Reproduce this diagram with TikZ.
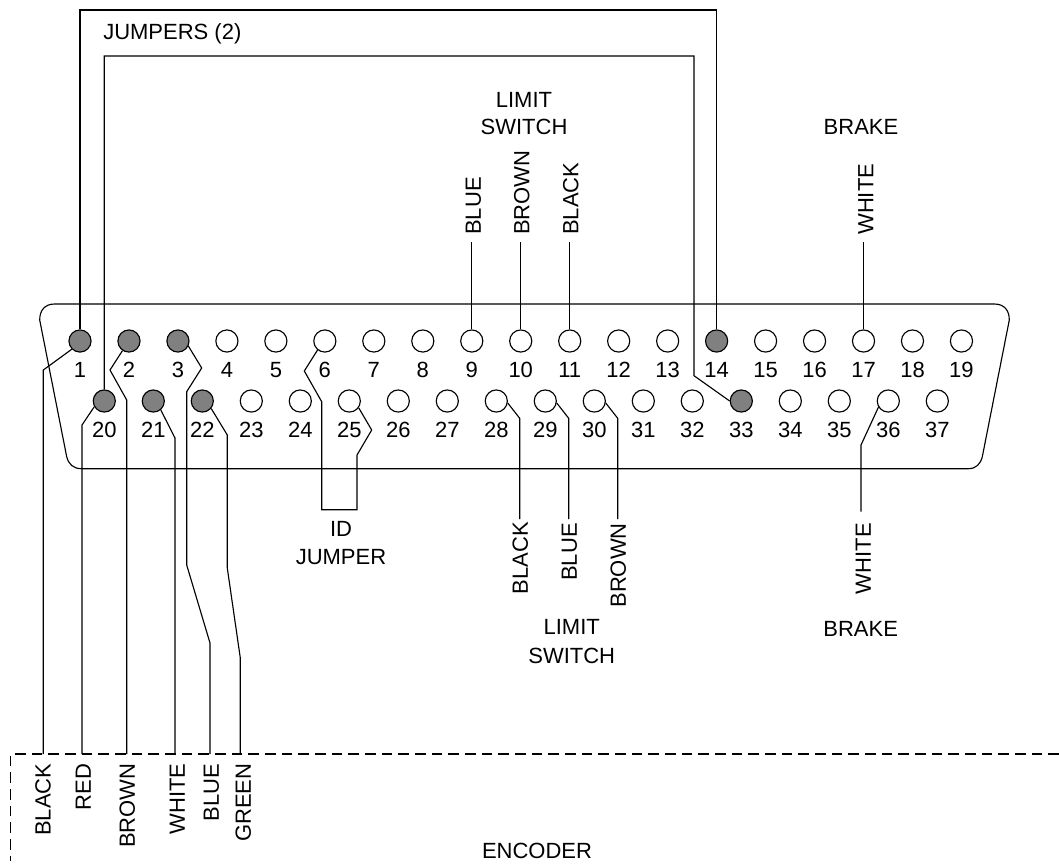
\documentclass[tikz,border=0pt]{standalone}
\usepackage{fontspec}
\setmainfont{Liberation Sans}
\definecolor{pingray}{HTML}{808080}
\tikzset{
	wire/.style={line width=0.85pt, line join=miter},
	pin/.style={circle, draw, line width=0.85pt, minimum size=16.6pt, inner sep=0pt},
	pinon/.style={pin, fill=pingray},
	txt/.style={font=\fontsize{16.5}{18}\selectfont, inner sep=0pt, text height=11.8pt, text depth=0pt},
	upbottom/.style={txt, rotate=90, anchor=west},
	uptop/.style={txt, rotate=90, anchor=east},
}
\begin{document}
\begin{tikzpicture}[x=0.75pt,y=-0.75pt]
	\useasboundingbox (0,0) rectangle (1059,865);
	% Connector shell
	\draw[wire] (54.7,304) -- (994.3,304) .. controls (1004,304) and (1009.3,310) .. (1009.3,320)
		-- (982.3,456.7) .. controls (980.5,464) and (976,468.7) .. (968.3,468.7)
		-- (81.7,468.7) .. controls (73,468.7) and (68.5,464) .. (66.7,456.7)
		-- (39.7,320) .. controls (39.7,310) and (45,304) .. (54.7,304) -- cycle;
	% Top row
	\foreach \n in {1,2,3,14}
		\node[pinon] (p\n) at ({80+48.97*(\n-1)},341) {};
	\foreach \n in {4,5,6,7,8,9,10,11,12,13,15,16,17,18,19}
		\node[pin] (p\n) at ({80+48.97*(\n-1)},341) {};
	\foreach \n in {1,...,19}
		\node[txt] (n\n) at ({80+48.97*(\n-1)},370) {\n};
	% Bottom row
	\foreach \n in {20,21,22,33}
		\node[pinon] (p\n) at ({104.3+49*(\n-20)},401) {};
	\foreach \n in {23,24,25,26,27,28,29,30,31,32,34,35,36,37}
		\node[pin] (p\n) at ({104.3+49*(\n-20)},401) {};
	\foreach \n in {20,...,37}
		\node[txt] (n\n) at ({104.3+49*(\n-20)},430) {\n};
	% Jumpers
	\node[txt, anchor=west] (jumpers) at (103,32) {JUMPERS (2)};
	\draw[wire] (p1.north) -- (p1.north |- 0,10) -| (p14.north);
	\draw[wire] (p20.north) -- (p20.north |- 0,56) -- (694,56) -- (694,375.7) -- (p33.west);
	% Limit switch and brake, top
	\node[txt] (limit1) at (524,100) {LIMIT};
	\node[txt] (switch1) at (524,127) {SWITCH};
	\node[txt] (brake1) at (861,127) {BRAKE};
	\node[upbottom] (blue9) at (473,235) {BLUE};
	\node[upbottom] (brown10) at (521.5,235) {BROWN};
	\node[upbottom] (black11) at (570.5,235) {BLACK};
	\node[upbottom] (white17) at (865.5,235) {WHITE};
	\coordinate (e9) at (p9.north |- 0,242);
	\coordinate (e10) at (p10.north |- 0,242);
	\coordinate (e11) at (p11.north |- 0,242);
	\coordinate (e17) at (p17.north |- 0,242);
	\draw[wire] (p9.north) -- (e9);
	\draw[wire] (p10.north) -- (e10);
	\draw[wire] (p11.north) -- (e11);
	\draw[wire] (p17.north) -- (e17);
	% ID jumper
	\node[txt] (id) at (341,529) {ID};
	\node[txt] (jumper) at (341,557) {JUMPER};
	\draw[wire] (p6.231) -- (304.3,371) -- (321.7,401.7) -- (321.7,509.7) -- (357,509.7)
		-- (357,455) -- (371.7,430) -- (p25.324);
	% Limit switch and brake, bottom
	\node[uptop] (black28) at (520,521.7) {BLACK};
	\node[uptop] (blue29) at (569,523) {BLUE};
	\node[uptop] (brown30) at (618,523) {BROWN};
	\node[uptop] (white36) at (863,523) {WHITE};
	\node[txt] (limit2) at (571.7,627) {LIMIT};
	\node[txt] (switch2) at (571.7,656) {SWITCH};
	\node[txt] (brake2) at (860.7,629) {BRAKE};
	\coordinate (e28) at (519.7,519);
	\coordinate (e29) at (568.7,519);
	\coordinate (e30) at (617.7,519);
	\coordinate (e36) at (861,511.7);
	\draw[wire] (p28.350) -- (519.7,418.3) -- (e28);
	\draw[wire] (p29.350) -- (568.7,418.3) -- (e29);
	\draw[wire] (p30.350) -- (617.7,418.3) -- (e30);
	\draw[wire] (p36.212) -- (861,445) -- (e36);
	% Encoder
	\draw[wire, dash pattern=on 8pt off 4.5pt] (1059,754) -- (10.7,754) -- (10.7,861);
	\node[txt] (encoder) at (537,851) {ENCODER};
	\node[uptop] (black1) at (42.7,763.3) {BLACK};
	\node[uptop] (red20) at (83,763.3) {RED};
	\node[uptop] (brown2) at (127,763.3) {BROWN};
	\node[uptop] (white21) at (177,763.3) {WHITE};
	\node[uptop] (blue3) at (211,763.3) {BLUE};
	\node[uptop] (green22) at (243,763.3) {GREEN};
	\coordinate (e1) at (43.3,754);
	\coordinate (e20) at (82,754);
	\coordinate (e2) at (126.7,754);
	\coordinate (e21) at (175,754);
	\coordinate (e3) at (210,754);
	\coordinate (e22) at (240.3,754);
	\draw[wire] (p1.225) -- (43.3,370) -- (e1);
	\draw[wire] (p20.210) -- (82,425) -- (e20);
	\draw[wire] (p2.236) -- (110,370) -- (126.7,400) -- (e2);
	\draw[wire] (p21.310) -- (175,438) -- (e21);
	\draw[wire] (p3.334) -- (201.7,368) -- (186.7,391.7) -- (186.7,565) -- (210,643) -- (e3);
	\draw[wire] (p22.320) -- (227.3,435) -- (227.3,568) -- (240.3,658) -- (e22);
\end{tikzpicture}
\end{document}
